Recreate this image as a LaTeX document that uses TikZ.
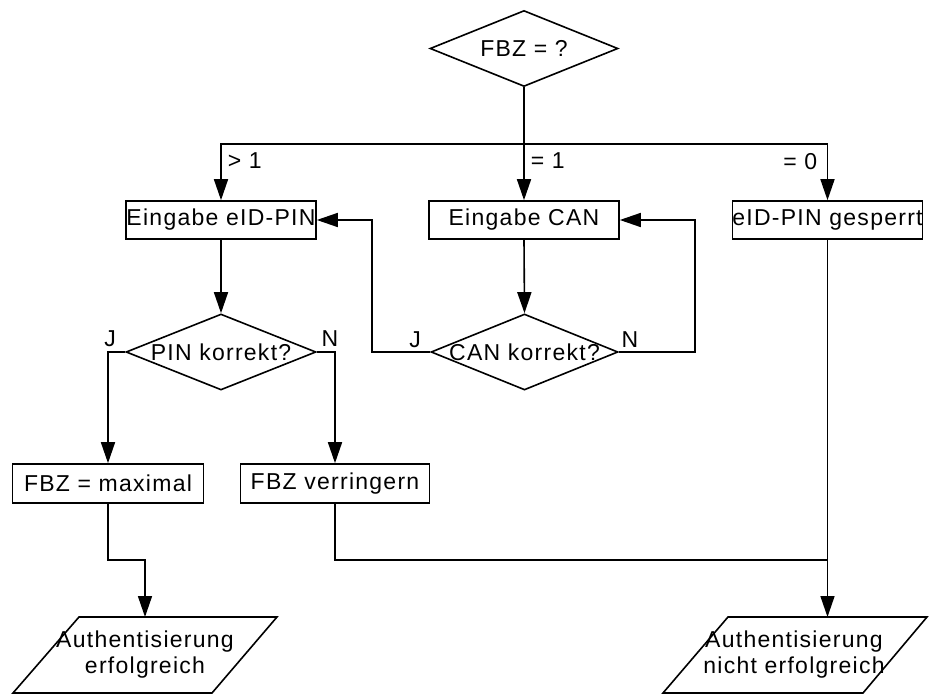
\documentclass[tikz,border=0pt]{standalone}
\usepackage{fontspec}
\setmainfont{Liberation Sans}[LetterSpace=5.5]
\usetikzlibrary{shapes.geometric,arrows.meta}
\begin{document}
\begin{tikzpicture}[x=1pt,y=-1pt,
  font=\fontsize{23}{26}\selectfont,
  line width=1.6pt,
  box/.style={draw, rectangle, minimum width=190pt, minimum height=38pt, inner sep=0pt},
  dec/.style={draw, diamond, minimum width=188pt, minimum height=76pt, inner sep=0pt},
  lab/.style={inner sep=0pt},
  arr/.style={-{Triangle[length=21pt,width=14pt]}},
  ]
\useasboundingbox (0,0) rectangle (940,700);

% nodes
\node[dec, label={[lab]center:{FBZ = ?}}] (fbz) at (524,48.5) {};
\node[box] (pin) at (221,220) {Eingabe eID-PIN};
\node[box] (can) at (524,220) {Eingabe CAN};
\node[box] (gesp) at (827.5,220) {eID-PIN gesperrt};
\node[dec, minimum width=190pt, label={[lab]center:{PIN korrekt?}}] (pinok) at (221,352) {};
\node[dec, minimum width=187pt, label={[lab]center:{CAN korrekt?}}] (canok) at (524.5,352) {};
\node[box, minimum width=191pt, minimum height=39pt] (fmax) at (108,483.5) {FBZ = maximal};
\node[box, minimum width=189pt, minimum height=39pt] (fver) at (335,483.5) {FBZ verringern};

% parallelograms
\draw (79,617) -- (277,617) -- (212,693) -- (13,693) -- cycle;
\node[lab, align=center] (ok) at (145,655) {Authentisierung\\erfolgreich};
\draw (728,617) -- (927,617) -- (863,693) -- (663,693) -- cycle;
\node[lab, align=center] (nok) at (794,655) {Authentisierung\\nicht erfolgreich};
\coordinate (okin) at (145,617);
\coordinate (nokin) at (827.5,617);

% labels
\node[lab, anchor=west] (lgt) at (227,161) {> 1};
\node[lab, anchor=west] (leq1) at (530,161) {= 1};
\node[lab, anchor=east] (leq0) at (818,162) {= 0};
\node[lab] (jp) at (110,339) {J};
\node[lab] (np) at (330,339) {N};
\node[lab] (jc) at (415,340) {J};
\node[lab] (nc) at (630,340) {N};

% connectors
\coordinate (split) at (524,144);
\draw (fbz.south) -- (split);
\draw[arr] (split) -| (pin.north);
\draw[arr] (split) -- (can.north);
\draw[arr] (split) -| (gesp.north);
\draw[arr] (pin.south) -- (pinok.north);
\draw[arr] (can.south) -- (canok.north);
\draw[arr] (pinok.west) -| (fmax.north);
\draw[arr] (pinok.east) -| (fver.north);
\draw[arr] (canok.west) -- (372,352) |- (pin.east);
\draw[arr] (canok.east) -- (695,352) |- (can.east);
\draw[arr] (fmax.south) -- (108,560) -| (okin);
\coordinate (join) at (827.5,560);
\draw (fver.south) |- (join);
\draw[arr] (gesp.south) -- (nokin);
\end{tikzpicture}
\end{document}
